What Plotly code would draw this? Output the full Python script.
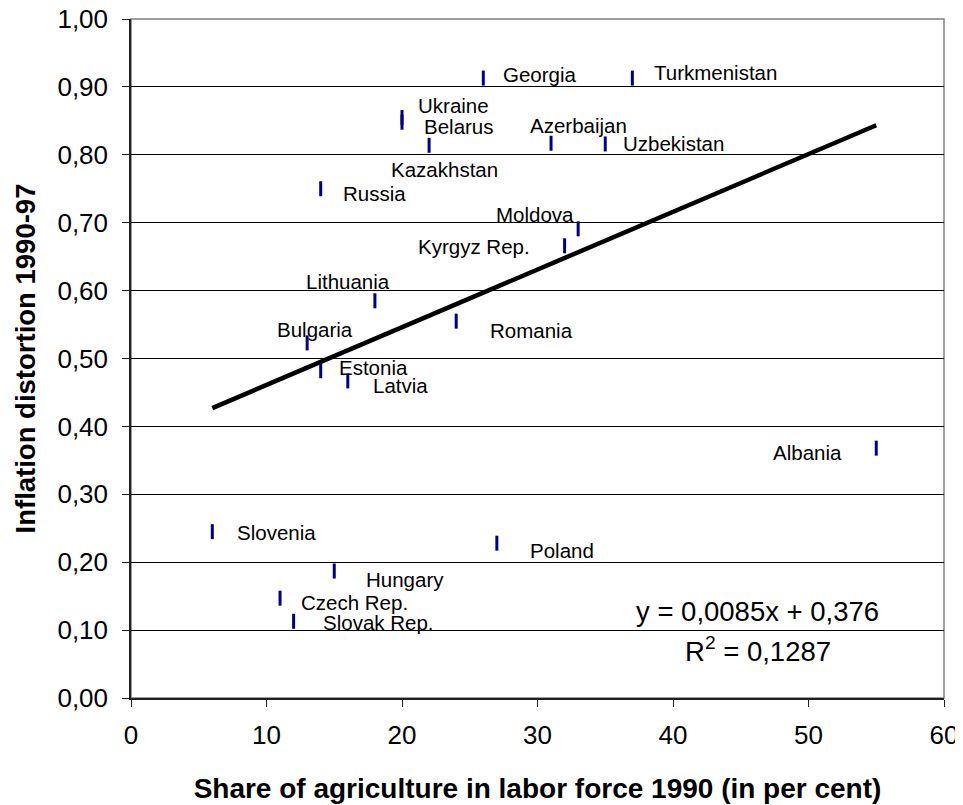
import plotly.graph_objects as go

# ---- data ----
countries = ["Georgia", "Turkmenistan", "Ukraine", "Belarus", "Kazakhstan", "Azerbaijan",
             "Uzbekistan", "Russia", "Moldova", "Kyrgyz Rep.", "Lithuania", "Romania",
             "Bulgaria", "Estonia", "Latvia", "Albania", "Slovenia", "Poland", "Hungary",
             "Czech Rep.", "Slovak Rep."]
agri_share = [26, 37, 20, 20, 22, 31, 35, 14, 33, 32, 18, 24, 13, 14, 16, 55, 6, 27, 15, 11, 12]
inflation_distortion = [0.913, 0.913, 0.855, 0.848, 0.814, 0.817, 0.816, 0.750, 0.691, 0.666,
                        0.585, 0.555, 0.523, 0.482, 0.467, 0.368, 0.245, 0.228, 0.187, 0.147, 0.113]
trend_slope = 0.0085
trend_intercept = 0.376
trend_r2 = "0,1287"
x_ticks = [0, 10, 20, 30, 40, 50, 60]
y_ticks = [0.0, 0.1, 0.2, 0.3, 0.4, 0.5, 0.6, 0.7, 0.8, 0.9, 1.0]

# ---- label placement (pixel offsets from each point) ----
label_offsets = {
    "Georgia": (18, 4), "Turkmenistan": (20, 6), "Ukraine": (14, 12), "Belarus": (20, -4),
    "Kazakhstan": (-40, -24), "Azerbaijan": (-23, 18), "Uzbekistan": (16, 0), "Russia": (20, -5),
    "Moldova": (-84, 14), "Kyrgyz Rep.": (-149, -1), "Lithuania": (-71, 19), "Romania": (32, -9),
    "Bulgaria": (-32, 13), "Estonia": (16, 3), "Latvia": (23, -5), "Albania": (-105, -4),
    "Slovenia": (23, -1), "Poland": (31, -7), "Hungary": (30, -8), "Czech Rep.": (19, -4),
    "Slovak Rep.": (27, -1),
}

FONT = "Liberation Sans, Arial, sans-serif"

fig = go.Figure()

fig.add_trace(go.Scatter(
    x=agri_share, y=inflation_distortion, mode="markers",
    marker=dict(symbol="line-ns", size=10.7, color="#000080",
                line=dict(color="#000080", width=3)),
    cliponaxis=False, showlegend=False, hoverinfo="text", text=countries,
))

x0, x1 = min(agri_share), max(agri_share)
fig.add_trace(go.Scatter(
    x=[x0, x1], y=[trend_slope * x0 + trend_intercept, trend_slope * x1 + trend_intercept],
    mode="lines", line=dict(color="black", width=4.5), showlegend=False, hoverinfo="skip",
))

annotations = []
for name, xv, yv in zip(countries, agri_share, inflation_distortion):
    dx, dy = label_offsets[name]
    annotations.append(dict(
        x=xv, y=yv, xref="x", yref="y", text=name, showarrow=False,
        xanchor="left", yanchor="middle", xshift=dx, yshift=dy,
        font=dict(family=FONT, size=20.5, color="black"),
    ))

annotations.append(dict(
    x=46.27, y=0.128, xref="x", yref="y", showarrow=False,
    text="y = 0,0085x + 0,376", xanchor="center", yanchor="middle",
    font=dict(family=FONT, size=27.5, color="black"),
))
annotations.append(dict(
    x=46.27, y=0.071, xref="x", yref="y", showarrow=False,
    text="R<sup>2</sup> = " + trend_r2, xanchor="center", yanchor="middle",
    font=dict(family=FONT, size=27.5, color="black"),
))

# the page body adds an 8px offset, so the margins are set to place the plot area
fig.update_layout(
    width=963, height=805,
    margin=dict(l=123, r=27, t=11, b=115),
    paper_bgcolor="white", plot_bgcolor="white",
    separators=",.",
    font=dict(family=FONT, size=26, color="black"),
    annotations=annotations,
    shapes=[dict(type="rect", xref="paper", yref="paper", x0=0, y0=0, x1=1, y1=1,
                 line=dict(color="#808080", width=1.5), layer="between")],
    xaxis=dict(
        range=[0, 60], tickvals=x_ticks, showgrid=False, zeroline=False, automargin=False,
        showline=True, linecolor="#202020", linewidth=1.5,
        ticks="outside", ticklen=7, tickcolor="#202020", tickwidth=1,
        ticklabelstandoff=6, ticklabeloverflow="allow",
        tickfont=dict(family=FONT, size=26, color="black"),
        title=dict(text="<b>Share of agriculture in labor force 1990 (in per cent)</b>",
                   font=dict(family=FONT, size=28, color="black"), standoff=29),
    ),
    yaxis=dict(
        range=[0, 1], tickvals=y_ticks, tickformat=".2f", automargin=False,
        showgrid=True, gridcolor="#000000", gridwidth=1, zeroline=False,
        showline=True, linecolor="#202020", linewidth=1.5,
        ticks="outside", ticklen=7, tickcolor="#202020", tickwidth=1,
        ticklabelstandoff=9, ticklabeloverflow="allow",
        tickfont=dict(family=FONT, size=26, color="black"),
        title=dict(text="<b>Inflation distortion 1990-97</b>",
                   font=dict(family=FONT, size=27.5, color="black"), standoff=14),
    ),
)

fig.write_html("out.html")
